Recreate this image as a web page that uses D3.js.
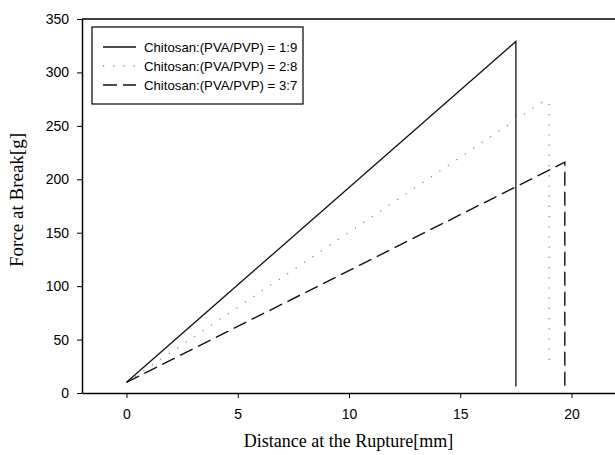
<!DOCTYPE html>
<html>
<head>
<meta charset="utf-8">
<script src="https://cdn.jsdelivr.net/npm/d3@7"></script>
<style>
  body { margin: 0; background: #fff; }
  svg { display: block; }
</style>
</head>
<body>
<div id="chart"></div>
<script>
// data
const xTicks = [0, 5, 10, 15, 20];
const yTicks = [0, 50, 100, 150, 200, 250, 300, 350];
const seriesNames = ['Chitosan:(PVA/PVP) = 1:9', 'Chitosan:(PVA/PVP) = 2:8', 'Chitosan:(PVA/PVP) = 3:7'];
const ratio19 = [[0, 10], [17.5, 329], [17.5, 6]];
const ratio28 = [[0, 10], [18.8, 274], [19.0, 270], [19.0, 24]];
const ratio37 = [[0, 10], [19.7, 216], [19.7, 6]];

const width = 615, height = 455;
const margin = { left: 82, top: 19, right: -1, bottom: 62 };

const svg = d3.select('#chart').append('svg')
  .attr('width', width)
  .attr('height', height);

const x = d3.scaleLinear().domain([-2, 22]).range([margin.left, width - margin.right]);
const y = d3.scaleLinear().domain([0, 350]).range([height - margin.bottom, margin.top]);

const styles = [
  { stroke: '#111', width: 1.3, dash: null },
  { stroke: '#888', width: 1.3, dash: '1.2,9' },
  { stroke: '#111', width: 1.4, dash: '14,6' }
];

// top frame line
svg.append('line')
  .attr('x1', x(-2)).attr('x2', width)
  .attr('y1', y(350)).attr('y2', y(350))
  .attr('stroke', '#000').attr('stroke-width', 1.5);

const xAxis = svg.append('g')
  .attr('transform', `translate(0,${y(0)})`)
  .call(d3.axisBottom(x).tickValues(xTicks).tickSize(5).tickPadding(11).tickSizeOuter(0));
const yAxis = svg.append('g')
  .attr('transform', `translate(${x(-2)},0)`)
  .call(d3.axisLeft(y).tickValues(yTicks).tickSize(5).tickPadding(8).tickSizeOuter(0));

[xAxis, yAxis].forEach(a => {
  a.select('.domain').attr('stroke', '#000').attr('stroke-width', 1.5);
  a.selectAll('.tick line').attr('stroke', '#000').attr('stroke-width', 1);
  a.selectAll('text')
    .attr('font-family', 'Liberation Sans, Arial, sans-serif')
    .attr('font-size', 14)
    .attr('fill', '#000');
});

// axis titles
svg.append('text')
  .attr('x', (x(-2) + width) / 2)
  .attr('y', 447)
  .attr('text-anchor', 'middle')
  .attr('font-family', 'Liberation Serif, Times New Roman, serif')
  .attr('font-size', 18)
  .text('Distance at the Rupture[mm]');
svg.append('text')
  .attr('transform', `translate(23,${(y(0) + y(350)) / 2 - 6}) rotate(-90)`)
  .attr('text-anchor', 'middle')
  .attr('font-family', 'Liberation Serif, Times New Roman, serif')
  .attr('font-size', 19)
  .text('Force at Break[g]');

// series lines
const line = d3.line().x(d => x(d[0])).y(d => y(d[1]));
[ratio19, ratio28, ratio37].forEach((data, i) => {
  svg.append('path')
    .datum(data)
    .attr('d', line)
    .attr('fill', 'none')
    .attr('stroke', styles[i].stroke)
    .attr('stroke-width', styles[i].width)
    .attr('stroke-dasharray', styles[i].dash);
});

// legend
const legend = svg.append('g').attr('transform', 'translate(92,27)');
legend.append('rect')
  .attr('width', 211).attr('height', 77)
  .attr('fill', '#fff').attr('stroke', '#000').attr('stroke-width', 1.2);
seriesNames.forEach((name, i) => {
  const row = legend.append('g').attr('transform', `translate(0,${20 + i * 19})`);
  row.append('line')
    .attr('x1', 11).attr('x2', 44).attr('y1', 0).attr('y2', 0)
    .attr('stroke', styles[i].stroke)
    .attr('stroke-width', styles[i].width)
    .attr('stroke-dasharray', styles[i].dash);
  row.append('text')
    .attr('x', 52).attr('y', 0).attr('dy', '0.35em')
    .attr('font-family', 'Liberation Sans, Arial, sans-serif')
    .attr('font-size', 13.2)
    .text(name);
});
</script>
</body>
</html>
